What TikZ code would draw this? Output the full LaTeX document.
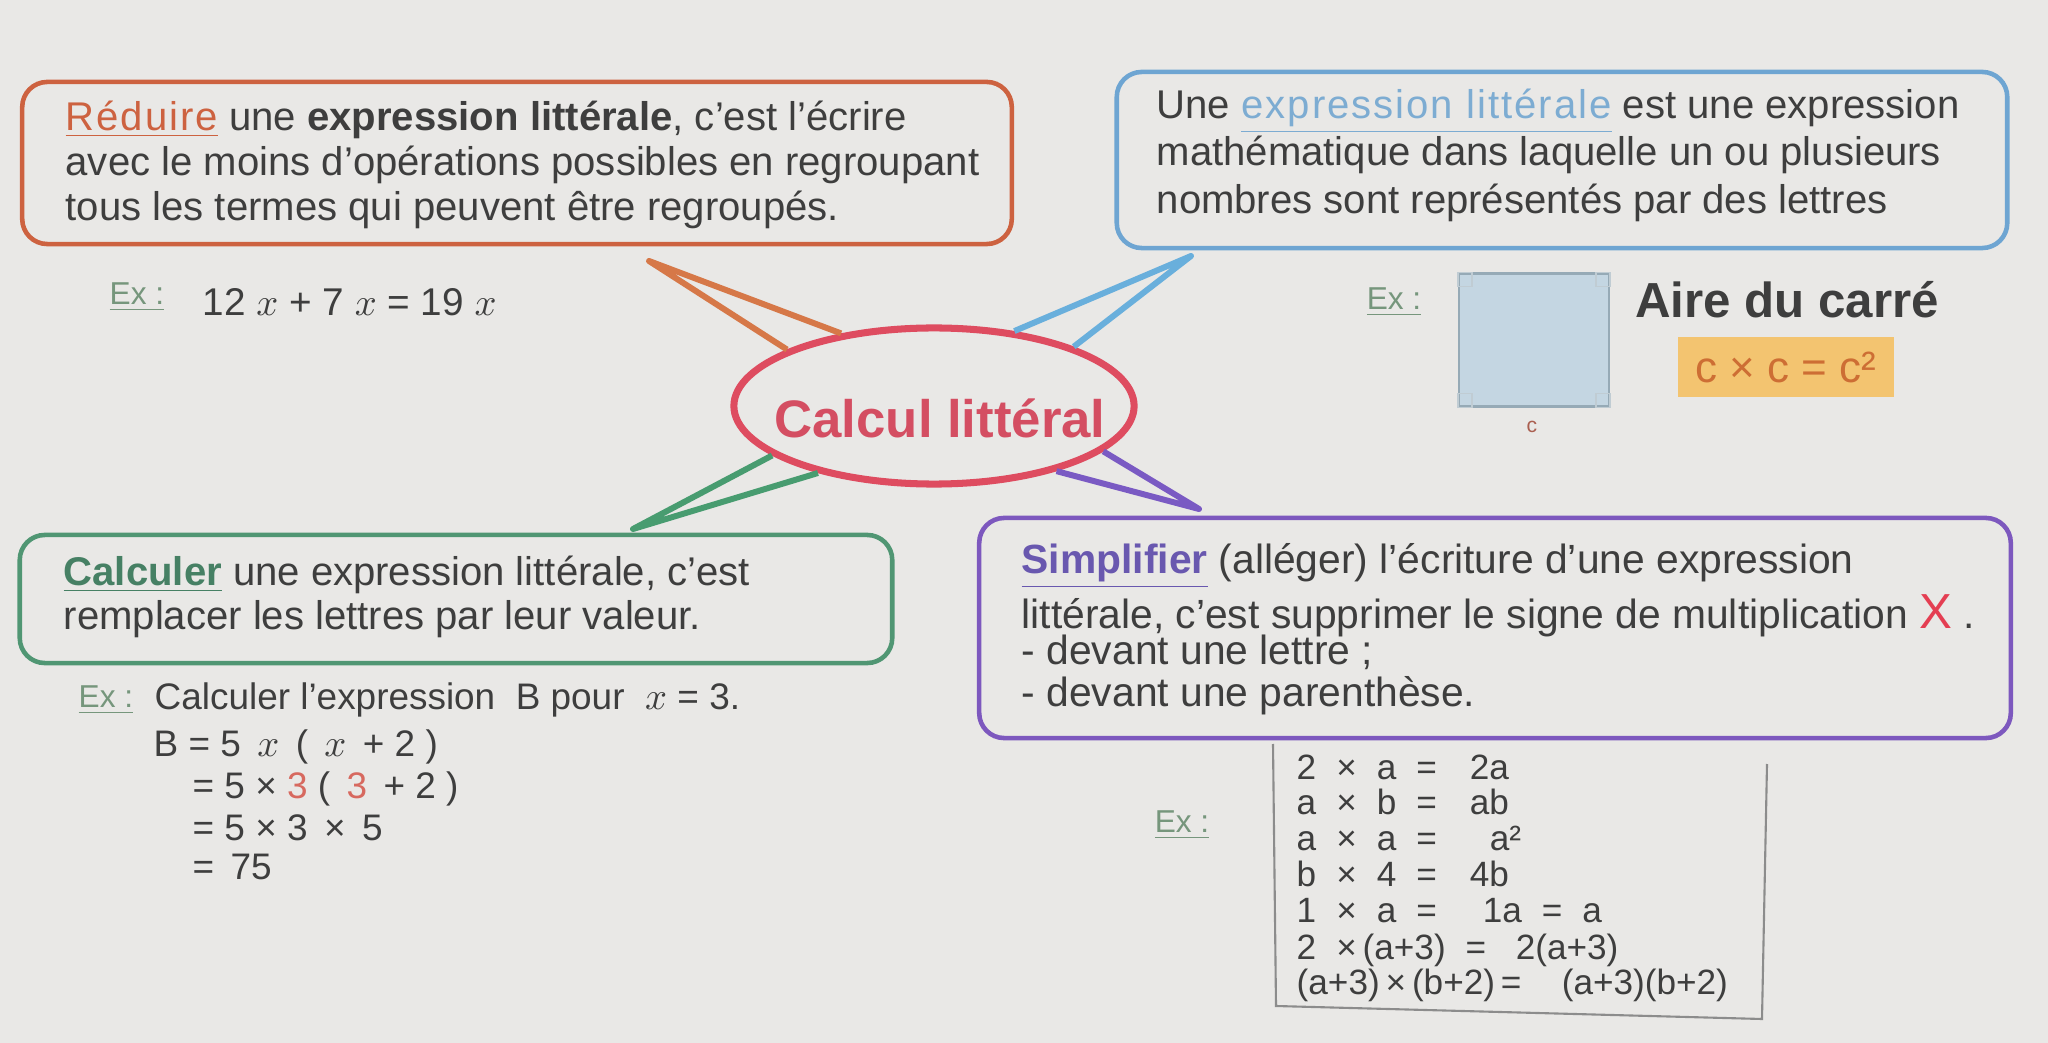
\documentclass[tikz,border=0pt]{standalone}
\usepackage{fontspec}
\setmainfont{Liberation Sans}
\newfontfamily\spaced{Liberation Sans}[LetterSpace=5]
\usetikzlibrary{shapes.geometric}
\definecolor{bg}{RGB}{233,232,230}
\definecolor{txtC}{RGB}{62,62,62}
\definecolor{orangeC}{RGB}{205,98,64}
\definecolor{orangeL}{RGB}{214,120,72}
\definecolor{blueC}{RGB}{110,165,210}
\definecolor{blueL}{RGB}{105,175,220}
\definecolor{blueT}{RGB}{125,172,210}
\definecolor{greenC}{RGB}{80,150,115}
\definecolor{greenL}{RGB}{72,156,112}
\definecolor{greenT}{RGB}{70,128,100}
\definecolor{purpleC}{RGB}{125,88,190}
\definecolor{purpleL}{RGB}{122,90,195}
\definecolor{purpleT}{RGB}{105,88,175}
\definecolor{redE}{RGB}{222,76,96}
\definecolor{redT}{RGB}{212,78,98}
\definecolor{redX}{RGB}{228,62,82}
\definecolor{red3}{RGB}{215,105,95}
\definecolor{exC}{RGB}{118,150,124}
\definecolor{sqfill}{RGB}{196,214,226}
\definecolor{sqedge}{RGB}{150,170,182}
\definecolor{formfill}{RGB}{243,196,112}
\definecolor{formtxt}{RGB}{205,110,52}
\definecolor{cbrown}{RGB}{170,95,80}
\definecolor{handC}{RGB}{140,140,140}
\newcommand{\egap}{\hspace{0.2cm}}

\begin{document}
\begin{tikzpicture}[x=0.01cm,y=-0.01cm,
  box/.style={draw=#1,line width=1.3pt,rounded corners=0.25cm},
  boxtext/.style={anchor=west,align=left,inner sep=0pt,text=txtC,font=\fontsize{11.4}{12.6}\selectfont},
  branch/.style={draw=#1,line width=1.7pt,line join=round},
  exlabel/.style={text=exC,inner sep=0pt,font=\fontsize{9}{9}\selectfont},
  extext/.style={anchor=west,inner sep=0pt,text=txtC,font=\fontsize{10.5}{10.5}\selectfont},
  eqrow/.style={anchor=west,inner sep=0pt,text=txtC,font=\fontsize{10}{10}\selectfont,text height=0.75em,text depth=0.25em}]
\path[use as bounding box,fill=bg] (0,0) rectangle (2048,1043);

% centre
\node[ellipse,draw=redE,line width=2pt,minimum width=4cm,minimum height=1.56cm,inner sep=0pt] (calcul) at (934,406) {};
\node[text=redT,inner sep=0pt,font=\fontsize{15}{15}\selectfont\bfseries] (calcultxt) at (940,418) {Calcul littéral};

% branches
\coordinate (otip) at (649,261);
\coordinate (btip) at (1191,256);
\coordinate (gtip) at (633,529);
\coordinate (ptip) at (1199,509);
\draw[branch=orangeL] (calcul.159) -- (otip) -- (calcul.142);
\draw[branch=blueL] (calcul.43) -- (btip) -- (calcul.23);
\draw[branch=greenL] (calcul.197) -- (gtip) -- (calcul.210);
\draw[branch=purpleL] (calcul.332) -- (ptip) -- (calcul.345);

% reduire
\node[box=orangeC,minimum width=9.89cm,minimum height=1.62cm] (reduire) at (517,163) {};
\node[boxtext,font=\fontsize{11.4}{12.9}\selectfont] (reduiretxt) at (65,165) {{\spaced\color{orangeC}\underline{Réduire}} une \textbf{expression littérale}, c'est l'écrire\\
  avec le moins d'opérations possibles en regroupant\\
  tous les termes qui peuvent être regroupés.};
\node[exlabel] (ex1) at (137,297) {\underline{Ex :}};
\node[extext,font=\fontsize{11}{11}\selectfont] (ex1eq) at (202,302) {12 $x$ + 7 $x$ = 19 $x$};

% definition
\node[box=blueC,minimum width=8.9cm,minimum height=1.76cm] (definition) at (1562,160) {};
\node[boxtext,font=\fontsize{11.4}{13.5}\selectfont] (definitiontxt) at (1156,155) {Une {\spaced\color{blueT}\underline{expression littérale}} est une expression\\
  mathématique dans laquelle un ou plusieurs\\
  nombres sont représentés par des lettres};
\node[exlabel] (ex2) at (1394,302) {\underline{Ex :}};
\node[draw=sqedge,fill=sqfill,line width=0.6pt,minimum width=1.5cm,minimum height=1.33cm] (carre) at (1534,340) {};
\draw[sqedge!60,line width=0.4pt] (carre.north west) rectangle ++(14,14);
\draw[sqedge!60,line width=0.4pt] (carre.north east) rectangle ++(-14,14);
\draw[sqedge!60,line width=0.4pt] (carre.south west) rectangle ++(14,-14);
\draw[sqedge!60,line width=0.4pt] (carre.south east) rectangle ++(-14,-14);
\node[text=cbrown,inner sep=0pt,font=\fontsize{6}{6}\selectfont] (cote) at (1532,427) {c};
\node[text=txtC,inner sep=0pt,font=\fontsize{14}{14}\selectfont\bfseries] (aire) at (1787,300) {Aire du carré};
\node[fill=formfill,text=formtxt,minimum width=2.16cm,minimum height=0.59cm,inner sep=0pt,
  font=\fontsize{12.5}{12.5}\selectfont] (formule) at (1786,367) {c × c = c²};

% calculer
\node[box=greenC,minimum width=8.72cm,minimum height=1.28cm] (calculer) at (456,599) {};
\node[boxtext] (calculertxt) at (63,597) {{\bfseries\color{greenT}\underline{Calculer}} une expression littérale, c'est\\
  remplacer les lettres par leur valeur.};
\node[exlabel] (ex3) at (106,700) {\underline{Ex :}};
\node[extext] (ex3txt) at (154,700) {Calculer l'expression \ B pour \ $x$ = 3.};
\node[extext] (ex3a) at (153,747) {B = 5 \,$x$\, ( \,$x$ \,+ 2 )};
\node[extext] (ex3b) at (192,789) {= 5 × \textcolor{red3}{3} ( \,\textcolor{red3}{3} \,+ 2 )};
\node[extext] (ex3c) at (192,828) {= 5 × 3 \,× \,5};
\node[extext] (ex3d) at (192,867) {= \,75};

% simplifier
\node[box=purpleC,minimum width=10.31cm,minimum height=2.2cm] (simplifier) at (1495,628) {};
\node[boxtext,font=\fontsize{11.6}{12}\selectfont] (simplifiertxt) at (1021,629) {{\bfseries\color{purpleT}\underline{Simplifier}} (alléger) l'écriture d'une expression\\[0.6pt]
  littérale, c'est supprimer le signe de multiplication {\fontsize{14}{14}\selectfont\color{redX}X} .\\[-1.7pt]
  - devant une lettre ;\\
  - devant une parenthèse.};
\node[exlabel] (ex4) at (1182,825) {\underline{Ex :}};
\draw[handC,line width=0.6pt] (1273,744) -- (1276,1006) -- (1762,1019) -- (1767,764);
\node[eqrow] (r1) at (1296,771) {\makebox[1.73cm][l]{2\egap×\egap a\egap=}2a};
\node[eqrow] (r2) at (1296,806) {\makebox[1.73cm][l]{a\egap×\egap b\egap=}ab};
\node[eqrow] (r3) at (1296,842) {\makebox[1.93cm][l]{a\egap×\egap a\egap=}a²};
\node[eqrow] (r4) at (1296,878) {\makebox[1.73cm][l]{b\egap×\egap 4\egap=}4b};
\node[eqrow] (r5) at (1296,914) {\makebox[1.86cm][l]{1\egap×\egap a\egap=}1a\egap=\egap a};
\node[eqrow] (r6) at (1296,951) {\makebox[2.19cm][l]{2\egap×\,(a+3)\egap=}2(a+3)};
\node[eqrow] (r7) at (1296,986) {\makebox[2.65cm][l]{(a+3)\,×\,(b+2)\,=}(a+3)(b+2)};
\end{tikzpicture}
\end{document}
